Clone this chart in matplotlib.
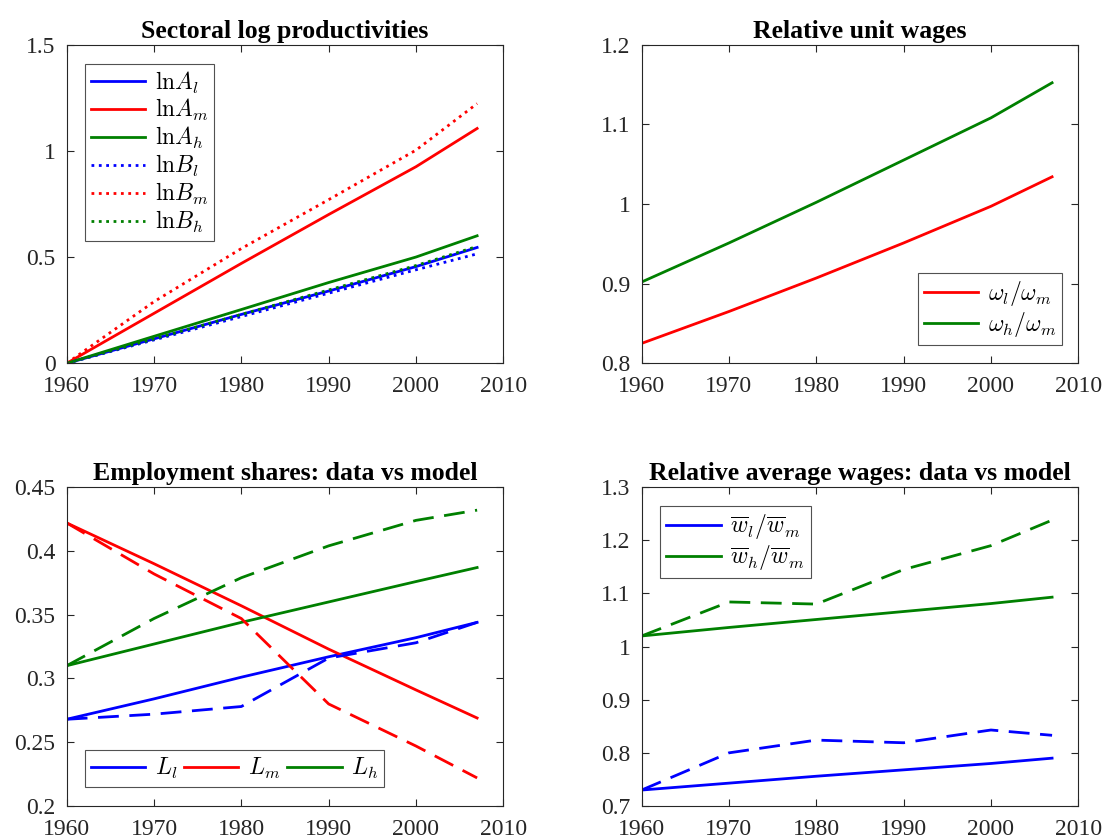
import numpy as np
import matplotlib
matplotlib.use('Agg')
import matplotlib.pyplot as plt

plt.rcParams['font.family'] = ['Liberation Serif', 'DejaVu Serif']
plt.rcParams['mathtext.fontset'] = 'cm'
plt.rcParams['font.size'] = 17
plt.rcParams['xtick.direction'] = 'in'
plt.rcParams['ytick.direction'] = 'in'
plt.rcParams['xtick.top'] = True
plt.rcParams['ytick.right'] = True
plt.rcParams['axes.edgecolor'] = '#262626'
plt.rcParams['xtick.color'] = '#262626'
plt.rcParams['ytick.color'] = '#262626'

years = [1960, 1970, 1980, 1990, 2000, 2007]

# sectoral log productivities
lnA_l = [0.0, 0.115, 0.23, 0.34, 0.455, 0.545]
lnA_m = [0.0, 0.235, 0.47, 0.70, 0.925, 1.105]
lnA_h = [0.0, 0.127, 0.253, 0.38, 0.50, 0.60]
lnB_l = [0.0, 0.11, 0.22, 0.33, 0.44, 0.515]
lnB_m = [0.0, 0.29, 0.54, 0.77, 1.003, 1.222]
lnB_h = [0.0, 0.115, 0.23, 0.345, 0.46, 0.55]

# relative unit wages
om_l = [0.825, 0.865, 0.907, 0.951, 0.997, 1.034]
om_h = [0.902, 0.951, 1.002, 1.055, 1.108, 1.152]

# employment shares, model and data
L_l_mod = [0.268, 0.284, 0.301, 0.317, 0.332, 0.344]
L_m_mod = [0.422, 0.390, 0.357, 0.323, 0.291, 0.269]
L_h_mod = [0.310, 0.327, 0.344, 0.360, 0.376, 0.387]
L_l_dat = [0.268, 0.272, 0.278, 0.316, 0.328, 0.344]
L_m_dat = [0.422, 0.382, 0.347, 0.280, 0.247, 0.222]
L_h_dat = [0.310, 0.347, 0.379, 0.404, 0.424, 0.432]

# relative average wages, model and data
w_l_mod = [0.730, 0.743, 0.756, 0.768, 0.780, 0.790]
w_h_mod = [1.020, 1.036, 1.051, 1.066, 1.081, 1.093]
w_l_dat = [0.730, 0.800, 0.824, 0.819, 0.843, 0.833]
w_h_dat = [1.020, 1.084, 1.080, 1.145, 1.190, 1.238]

blue = (0, 0, 1)
red = (1, 0, 0)
green = (0, 0.5, 0)
lw = 2
dash = (0, (7.5, 3.8))

fig = plt.figure(figsize=(11.04, 8.4), dpi=100)
w, h = 0.3955, 0.3795
ax1 = fig.add_axes([0.0604, 0.5675, w, h])
ax2 = fig.add_axes([0.5812, 0.5675, w, h])
ax3 = fig.add_axes([0.0604, 0.0405, w, h])
ax4 = fig.add_axes([0.5812, 0.0405, w, h])


def style(ax, title, ylim, yticks, ylabels):
    ax.set_xlim(1960, 2010)
    ax.set_xticks([1960, 1970, 1980, 1990, 2000, 2010])
    ax.set_ylim(*ylim)
    ax.set_yticks(yticks)
    ax.set_yticklabels(ylabels)
    ax.set_title(title, fontweight='bold', fontsize=18.5, pad=5)
    ax.tick_params(labelsize=17, length=5, width=0.8)
    ax.tick_params(axis='x', pad=9.5)
    ax.tick_params(axis='y', pad=8)
    for s in ax.spines.values():
        s.set_linewidth(0.8)


def legend(ax, **kw):
    leg = ax.legend(fancybox=False, edgecolor='#262626', fontsize=17,
                    handlelength=2.3, borderpad=0.25, labelspacing=0.08,
                    handletextpad=0.4, borderaxespad=0, **kw)
    leg.get_frame().set_linewidth(0.8)
    return leg


ax1.plot(years, lnA_l, color=blue, lw=lw, label=r'$\mathrm{ln}A_l$')
ax1.plot(years, lnA_m, color=red, lw=lw, label=r'$\mathrm{ln}A_m$')
ax1.plot(years, lnA_h, color=green, lw=lw, label=r'$\mathrm{ln}A_h$')
ax1.plot(years, lnB_l, color=blue, lw=lw, ls=':', label=r'$\mathrm{ln}B_l$')
ax1.plot(years, lnB_m, color=red, lw=lw, ls=':', label=r'$\mathrm{ln}B_m$')
ax1.plot(years, lnB_h, color=green, lw=lw, ls=':', label=r'$\mathrm{ln}B_h$')
style(ax1, 'Sectoral log productivities', (0, 1.5), [0, 0.5, 1, 1.5],
      ['0', '0.5', '1', '1.5'])
legend(ax1, loc='upper left', bbox_to_anchor=(0.042, 0.94))

ax2.plot(years, om_l, color=red, lw=lw, label=r'$\omega_l/\omega_m$')
ax2.plot(years, om_h, color=green, lw=lw, label=r'$\omega_h/\omega_m$')
style(ax2, 'Relative unit wages', (0.8, 1.2), [0.8, 0.9, 1, 1.1, 1.2],
      ['0.8', '0.9', '1', '1.1', '1.2'])
legend(ax2, loc='lower right', bbox_to_anchor=(0.963, 0.057))

ax3.plot(years, L_l_mod, color=blue, lw=lw, label=r'$L_l$')
ax3.plot(years, L_m_mod, color=red, lw=lw, label=r'$L_m$')
ax3.plot(years, L_h_mod, color=green, lw=lw, label=r'$L_h$')
ax3.plot(years, L_l_dat, color=blue, lw=lw, ls=dash)
ax3.plot(years, L_m_dat, color=red, lw=lw, ls=dash)
ax3.plot(years, L_h_dat, color=green, lw=lw, ls=dash)
style(ax3, 'Employment shares: data vs model', (0.2, 0.45),
      [0.2, 0.25, 0.3, 0.35, 0.4, 0.45],
      ['0.2', '0.25', '0.3', '0.35', '0.4', '0.45'])
legend(ax3, loc='lower left', ncol=3, columnspacing=0.3,
       bbox_to_anchor=(0.042, 0.06))

ax4.plot(years, w_l_mod, color=blue, lw=lw,
         label=r'$\overline{w}_l/\overline{w}_m$')
ax4.plot(years, w_h_mod, color=green, lw=lw,
         label=r'$\overline{w}_h/\overline{w}_m$')
ax4.plot(years, w_l_dat, color=blue, lw=lw, ls=dash)
ax4.plot(years, w_h_dat, color=green, lw=lw, ls=dash)
style(ax4, 'Relative average wages: data vs model', (0.7, 1.3),
      [0.7, 0.8, 0.9, 1, 1.1, 1.2, 1.3],
      ['0.7', '0.8', '0.9', '1', '1.1', '1.2', '1.3'])
legend(ax4, loc='upper left', bbox_to_anchor=(0.043, 0.941))

plt.savefig('out.png', dpi=100)
